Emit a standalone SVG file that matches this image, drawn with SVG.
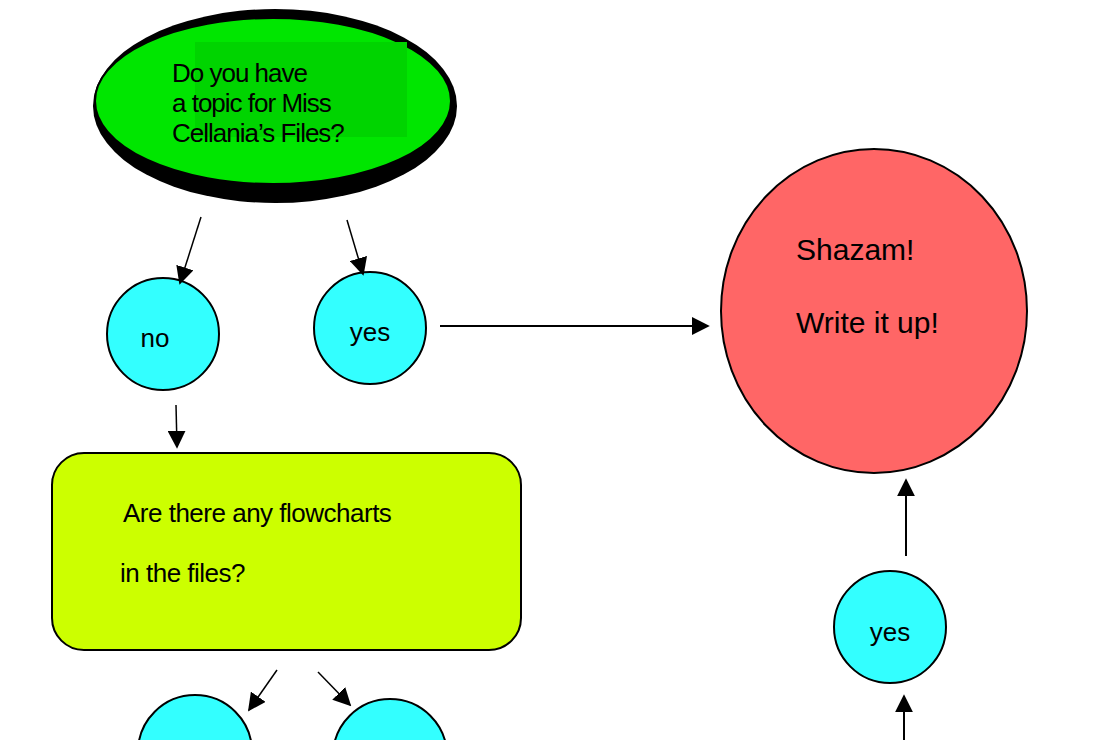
<svg xmlns="http://www.w3.org/2000/svg" width="1100" height="740" viewBox="0 0 1100 740">
<style>
text{font-family:"Liberation Sans",Arial,sans-serif;fill:#000}
.c{fill:#33ffff;stroke:#000;stroke-width:2}
.l{stroke:#000;stroke-width:2;fill:none;marker-end:url(#a)}
</style>
<defs><marker id="a" viewBox="0 0 10 10" refX="9" refY="5" markerWidth="7" markerHeight="7" markerUnits="userSpaceOnUse" orient="auto"><path d="M0,0L10,5L0,10z" fill="#000"/></marker>
<marker id="b" viewBox="0 0 10 10" refX="9" refY="5" markerWidth="18" markerHeight="18" markerUnits="userSpaceOnUse" orient="auto"><path d="M0,0L10,5L0,10z" fill="#000"/></marker></defs>
<rect width="1100" height="740" fill="#fff"/>
<g id="q1">
<ellipse cx="275" cy="106" rx="182" ry="97" fill="#000"/>
<ellipse cx="273" cy="101" rx="178" ry="83" fill="#00e600" stroke="#000" stroke-width="2"/>
<rect x="195" y="42" width="212" height="95" fill="#00d400"/>
<text font-size="26" letter-spacing="-1"><tspan x="172" y="82">Do you have</tspan><tspan x="172" y="112">a topic for Miss</tspan><tspan x="172" y="142">Cellania’s Files?</tspan></text>
</g>
<g id="no1"><circle class="c" cx="163" cy="334" r="56"/><text x="155" y="347" font-size="26" text-anchor="middle">no</text></g>
<g id="yes1"><circle class="c" cx="370" cy="328" r="56"/><text x="370" y="341" font-size="26" text-anchor="middle">yes</text></g>
<g id="shazam"><ellipse cx="874" cy="311" rx="153" ry="162" fill="#ff6666" stroke="#000" stroke-width="2"/>
<text x="796" y="260" font-size="30">Shazam!</text><text x="796" y="333" font-size="30">Write it up!</text></g>
<g id="q2"><rect x="52" y="453" width="469" height="197" rx="32" fill="#ccff00" stroke="#000" stroke-width="2"/>
<text x="123" y="522" font-size="26" letter-spacing="-0.5">Are there any flowcharts</text>
<text x="120" y="582" font-size="26" letter-spacing="-0.5">in the files?</text></g>
<g id="yes2"><circle class="c" cx="890" cy="627" r="56"/><text x="890" y="641" font-size="26" text-anchor="middle">yes</text></g>
<g id="b1"><circle class="c" cx="195" cy="752" r="57"/></g>
<g id="b2"><circle class="c" cx="390" cy="756" r="57"/></g>
<g id="connectors">
<line x1="201" y1="217" x2="180" y2="283" stroke="#000" stroke-width="1.5" marker-end="url(#b)"/>
<line x1="347" y1="220" x2="363" y2="274" stroke="#000" stroke-width="1.5" marker-end="url(#b)"/>
<line x1="440" y1="326" x2="708" y2="326" stroke="#000" stroke-width="2" marker-end="url(#b)"/>
<line x1="176" y1="405" x2="177" y2="447" stroke="#000" stroke-width="1.5" marker-end="url(#b)"/>
<line x1="906" y1="556" x2="906" y2="480" stroke="#000" stroke-width="2" marker-end="url(#b)"/>
<line x1="904" y1="740" x2="904" y2="696" stroke="#000" stroke-width="2" marker-end="url(#b)"/>
<line x1="277" y1="670" x2="249" y2="710" stroke="#000" stroke-width="1.5" marker-end="url(#b)"/>
<line x1="318" y1="672" x2="350" y2="705" stroke="#000" stroke-width="1.5" marker-end="url(#b)"/>
</g>
</svg>
